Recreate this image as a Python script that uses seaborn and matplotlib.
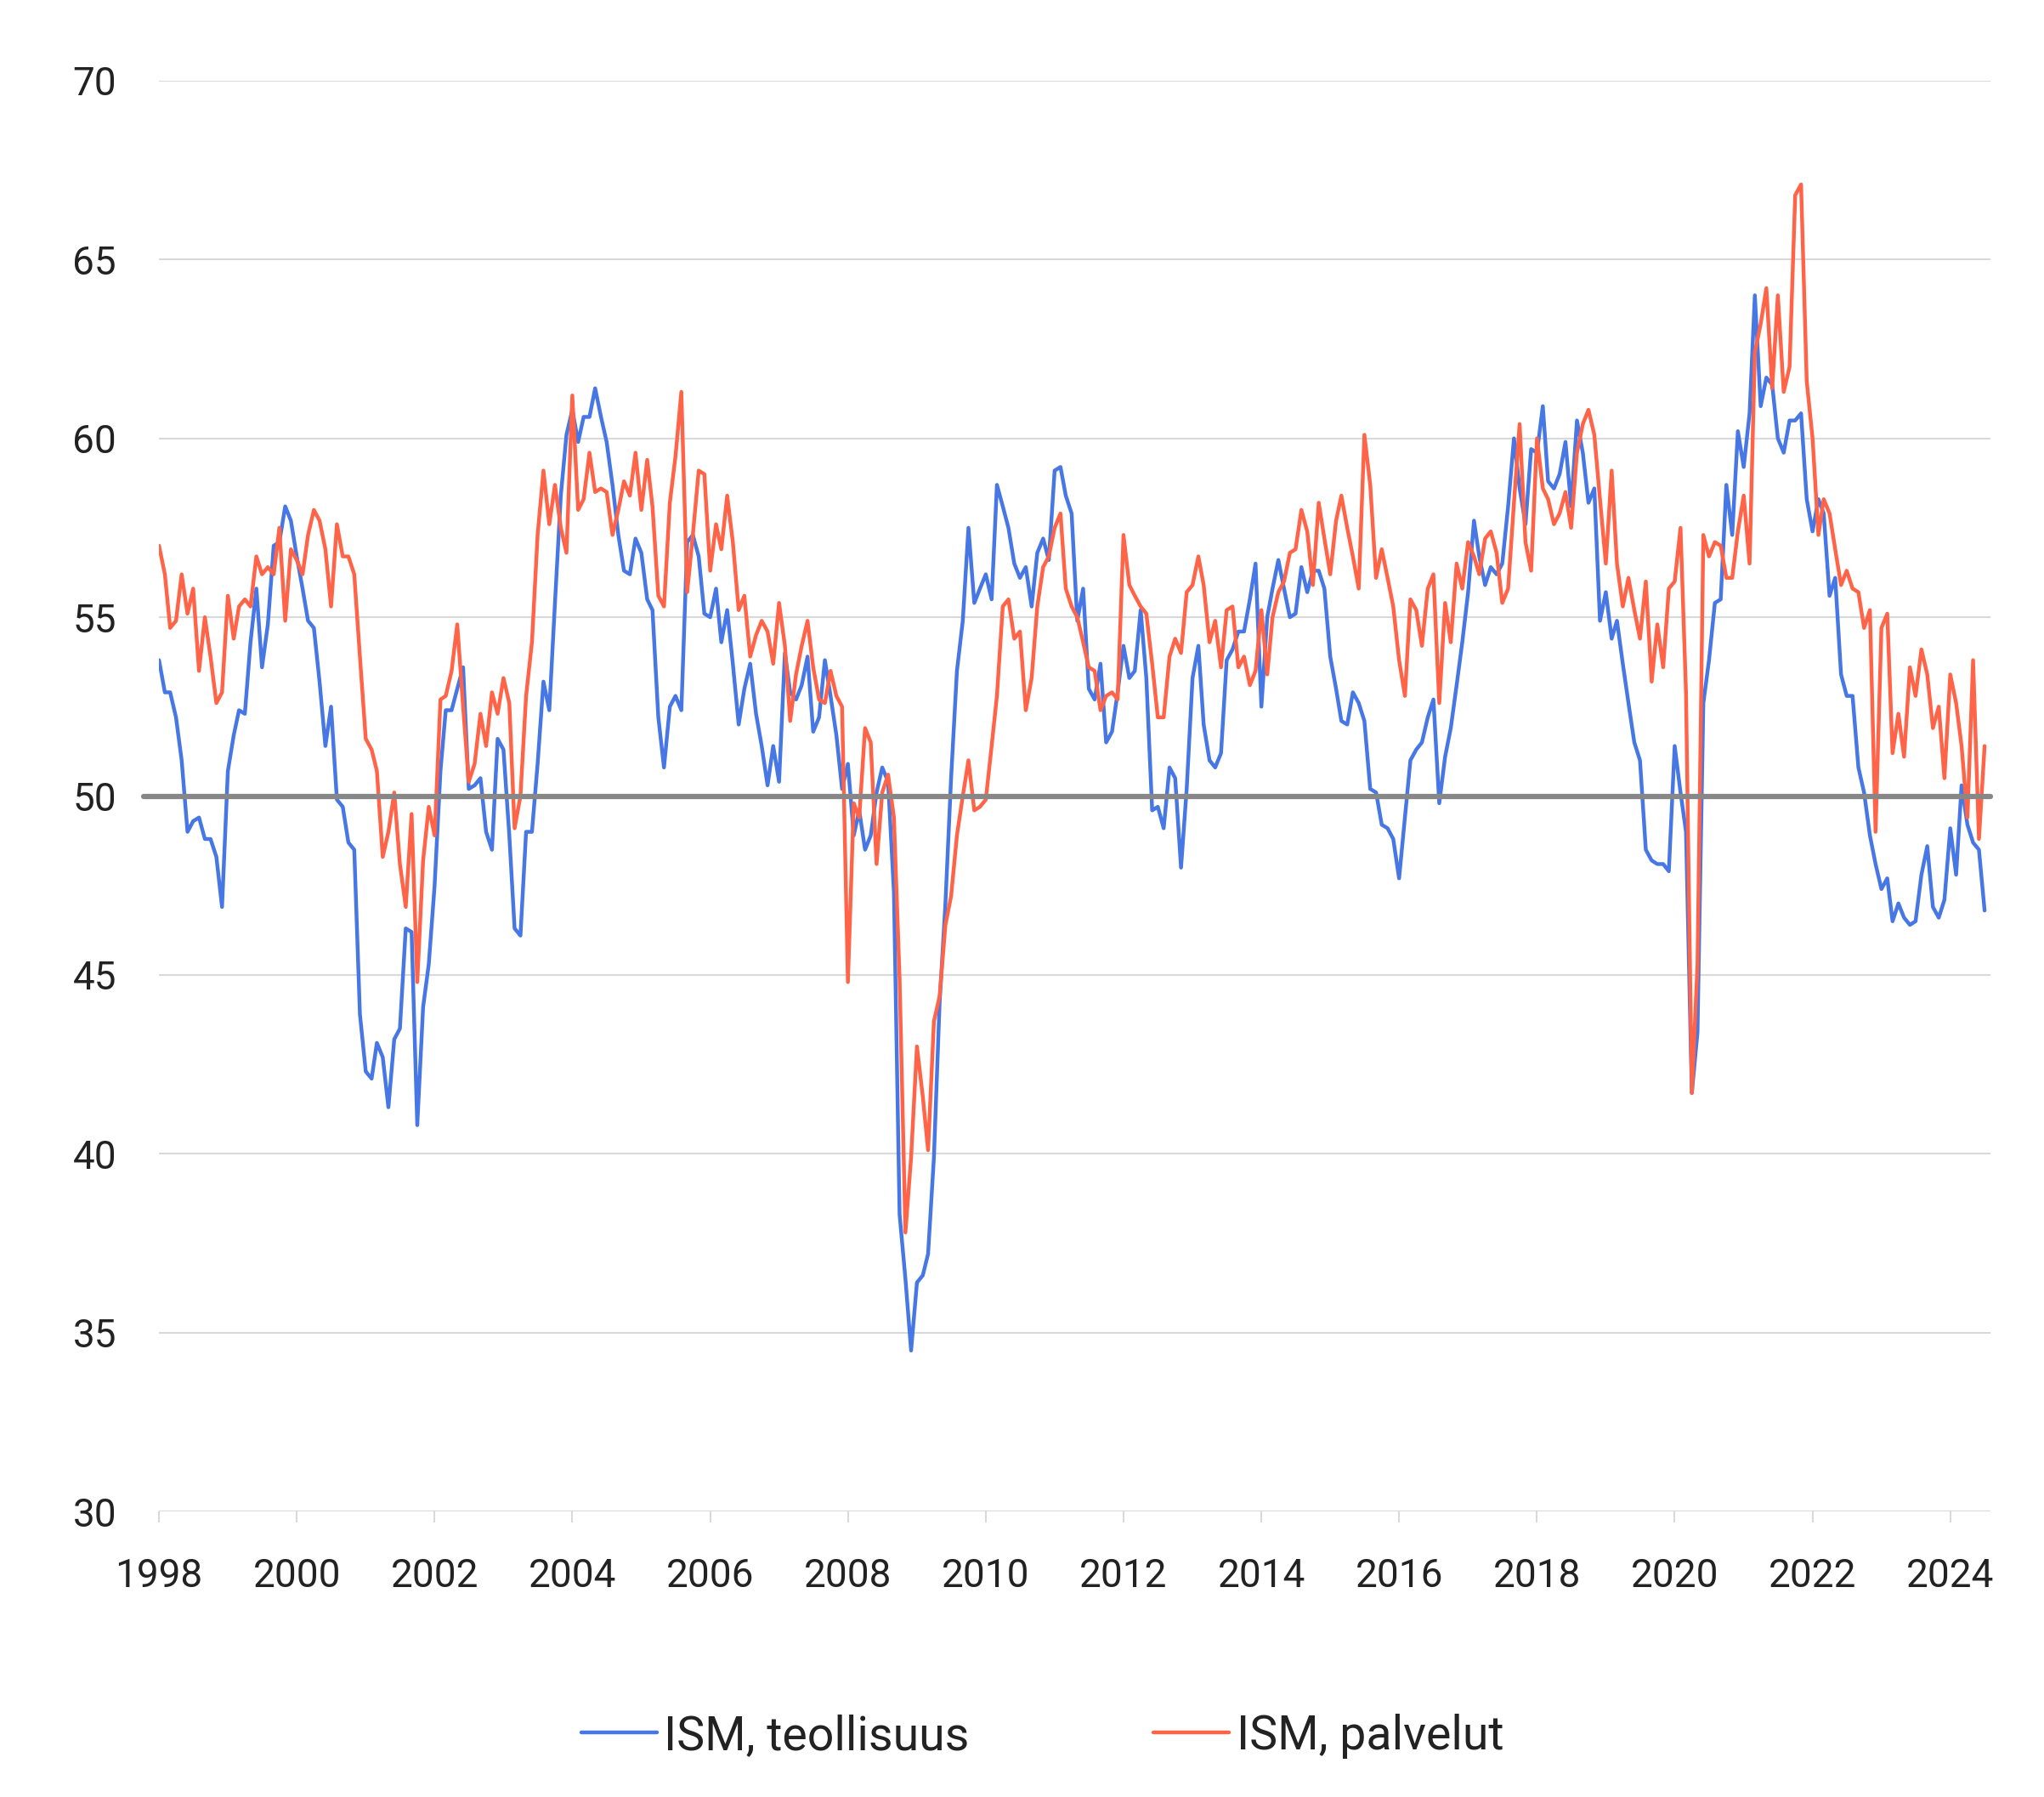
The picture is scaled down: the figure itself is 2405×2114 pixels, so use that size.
import pandas as pd
import matplotlib.pyplot as plt
import seaborn as sns

# ISM-indeksit kuukausittain, tammikuu 1998 - heinakuu 2024
teollisuus = [
    53.8, 52.9, 52.9, 52.2, 51.0, 49.0, 49.3, 49.4, 48.8, 48.8, 48.3, 46.9,  # 1998
    50.7, 51.7, 52.4, 52.3, 54.3, 55.8, 53.6, 54.8, 57.0, 57.1, 58.1, 57.7,  # 1999
    56.7, 55.8, 54.9, 54.7, 53.2, 51.4, 52.5, 49.9, 49.7, 48.7, 48.5, 43.9,  # 2000
    42.3, 42.1, 43.1, 42.7, 41.3, 43.2, 43.5, 46.3, 46.2, 40.8, 44.1, 45.3,  # 2001
    47.5, 50.7, 52.4, 52.4, 53.0, 53.6, 50.2, 50.3, 50.5, 49.0, 48.5, 51.6,  # 2002
    51.3, 48.9, 46.3, 46.1, 49.0, 49.0, 50.9, 53.2, 52.4, 55.4, 58.4, 60.1,  # 2003
    60.8, 59.9, 60.6, 60.6, 61.4, 60.6, 59.9, 58.7, 57.3, 56.3, 56.2, 57.2,  # 2004
    56.8, 55.5, 55.2, 52.2, 50.8, 52.5, 52.8, 52.4, 57.1, 57.3, 56.7, 55.1,  # 2005
    55.0, 55.8, 54.3, 55.2, 53.7, 52.0, 53.0, 53.7, 52.3, 51.4, 50.3, 51.4,  # 2006
    50.4, 54.0, 52.9, 52.7, 53.1, 53.9, 51.8, 52.2, 53.8, 52.8, 51.7, 50.2,  # 2007
    50.9, 48.9, 49.6, 48.5, 48.9, 50.1, 50.8, 50.4, 47.3, 38.3, 36.5, 34.5,  # 2008
    36.4, 36.6, 37.2, 39.9, 44.2, 47.0, 50.5, 53.5, 54.9, 57.5, 55.4, 55.8,  # 2009
    56.2, 55.5, 58.7, 58.1, 57.5, 56.5, 56.1, 56.4, 55.3, 56.8, 57.2, 56.6,  # 2010
    59.1, 59.2, 58.4, 57.9, 54.9, 55.8, 53.0, 52.7, 53.7, 51.5, 51.8, 52.9,  # 2011
    54.2, 53.3, 53.5, 55.2, 53.3, 49.6, 49.7, 49.1, 50.8, 50.5, 48.0, 50.2,  # 2012
    53.3, 54.2, 52.0, 51.0, 50.8, 51.2, 53.8, 54.1, 54.6, 54.6, 55.5, 56.5,  # 2013
    52.5, 55.0, 55.8, 56.6, 55.8, 55.0, 55.1, 56.4, 55.7, 56.3, 56.3, 55.8,  # 2014
    53.9, 53.0, 52.1, 52.0, 52.9, 52.6, 52.1, 50.2, 50.1, 49.2, 49.1, 48.8,  # 2015
    47.7, 49.4, 51.0, 51.3, 51.5, 52.2, 52.7, 49.8, 51.1, 51.9, 53.1, 54.3,  # 2016
    55.7, 57.7, 56.7, 55.9, 56.4, 56.2, 56.5, 58.1, 60.0, 58.6, 57.6, 59.7,  # 2017
    59.6, 60.9, 58.8, 58.6, 59.0, 59.9, 58.1, 60.5, 59.6, 58.2, 58.6, 54.9,  # 2018
    55.7, 54.4, 54.9, 53.7, 52.6, 51.5, 51.0, 48.5, 48.2, 48.1, 48.1, 47.9,  # 2019
    51.4, 50.1, 49.0, 41.7, 43.4, 52.6, 53.8, 55.4, 55.5, 58.7, 57.3, 60.2,  # 2020
    59.2, 60.7, 64.0, 60.9, 61.7, 61.5, 60.0, 59.6, 60.5, 60.5, 60.7, 58.3,  # 2021
    57.4, 58.3, 57.9, 55.6, 56.1, 53.4, 52.8, 52.8, 50.8, 50.1, 48.9, 48.1,  # 2022
    47.4, 47.7, 46.5, 47.0, 46.6, 46.4, 46.5, 47.8, 48.6, 46.9, 46.6, 47.1,  # 2023
    49.1, 47.8, 50.3, 49.2, 48.7, 48.5, 46.8,                                # 2024
]

palvelut = [
    57.0, 56.2, 54.7, 54.9, 56.2, 55.1, 55.8, 53.5, 55.0, 53.9, 52.6, 52.9,  # 1998
    55.6, 54.4, 55.3, 55.5, 55.3, 56.7, 56.2, 56.4, 56.2, 57.5, 54.9, 56.9,  # 1999
    56.6, 56.2, 57.3, 58.0, 57.7, 56.9, 55.3, 57.6, 56.7, 56.7, 56.2, 53.9,  # 2000
    51.6, 51.3, 50.7, 48.3, 49.0, 50.1, 48.1, 46.9, 49.5, 44.8, 48.2, 49.7,  # 2001
    48.9, 52.7, 52.8, 53.5, 54.8, 52.5, 50.4, 50.9, 52.3, 51.4, 52.9, 52.3,  # 2002
    53.3, 52.6, 49.1, 50.0, 52.8, 54.3, 57.3, 59.1, 57.6, 58.7, 57.5, 56.8,  # 2003
    61.2, 58.0, 58.3, 59.6, 58.5, 58.6, 58.5, 57.3, 58.0, 58.8, 58.4, 59.6,  # 2004
    58.0, 59.4, 58.1, 55.6, 55.3, 58.2, 59.5, 61.3, 55.7, 57.3, 59.1, 59.0,  # 2005
    56.3, 57.6, 56.9, 58.4, 57.1, 55.2, 55.6, 53.9, 54.5, 54.9, 54.6, 53.7,  # 2006
    55.4, 54.2, 52.1, 53.4, 54.2, 54.9, 53.6, 52.7, 52.6, 53.5, 52.8, 52.5,  # 2007
    44.8, 49.8, 49.4, 51.9, 51.5, 48.1, 50.1, 50.6, 49.4, 44.9, 37.8, 39.9,  # 2008
    43.0, 41.6, 40.1, 43.7, 44.4, 46.4, 47.2, 48.9, 50.0, 51.0, 49.6, 49.7,  # 2009
    49.9, 51.4, 52.8, 55.3, 55.5, 54.4, 54.6, 52.4, 53.3, 55.3, 56.4, 56.7,  # 2010
    57.5, 57.9, 55.8, 55.3, 55.0, 54.3, 53.6, 53.5, 52.4, 52.8, 52.9, 52.7,  # 2011
    57.3, 55.9, 55.6, 55.3, 55.1, 53.7, 52.2, 52.2, 53.9, 54.4, 54.0, 55.7,  # 2012
    55.9, 56.7, 55.9, 54.3, 54.9, 53.6, 55.2, 55.3, 53.6, 53.9, 53.1, 53.5,  # 2013
    55.2, 53.4, 55.0, 55.7, 56.0, 56.8, 56.9, 58.0, 57.4, 55.9, 58.2, 57.2,  # 2014
    56.2, 57.7, 58.4, 57.5, 56.7, 55.8, 60.1, 58.7, 56.1, 56.9, 56.1, 55.3,  # 2015
    53.8, 52.8, 55.5, 55.2, 54.2, 55.8, 56.2, 52.6, 55.4, 54.3, 56.5, 55.8,  # 2016
    57.1, 56.7, 56.2, 57.2, 57.4, 56.8, 55.4, 55.8, 58.2, 60.4, 57.1, 56.3,  # 2017
    60.0, 58.6, 58.3, 57.6, 57.9, 58.5, 57.5, 59.6, 60.4, 60.8, 60.1, 58.3,  # 2018
    56.5, 59.1, 56.5, 55.3, 56.1, 55.2, 54.4, 56.0, 53.2, 54.8, 53.6, 55.8,  # 2019
    56.0, 57.5, 52.9, 41.7, 45.3, 57.3, 56.7, 57.1, 57.0, 56.1, 56.1, 57.4,  # 2020
    58.4, 56.5, 62.4, 63.2, 64.2, 61.4, 64.0, 61.3, 62.0, 66.8, 67.1, 61.6,  # 2021
    60.0, 57.3, 58.3, 57.9, 56.9, 55.9, 56.3, 55.8, 55.7, 54.7, 55.2, 49.0,  # 2022
    54.7, 55.1, 51.2, 52.3, 51.1, 53.6, 52.8, 54.1, 53.4, 51.9, 52.5, 50.5,  # 2023
    53.4, 52.6, 51.4, 49.4, 53.8, 48.8, 51.4,                                # 2024
]

sarjat = ["ISM, teollisuus", "ISM, palvelut"]
varit = ["#4677E5", "#FF6448"]
vuodet = list(range(1998, 2025, 2))
y_tikit = [30, 35, 40, 45, 50, 55, 60, 65, 70]

kuukaudet = pd.date_range("1998-01-01", periods=len(teollisuus), freq="MS")
df = pd.DataFrame({
    "aika": list(kuukaudet) * 2,
    "arvo": teollisuus + palvelut,
    "sarja": [sarjat[0]] * len(teollisuus) + [sarjat[1]] * len(palvelut),
})

sns.set_theme(style="white")
plt.rcParams["font.family"] = ["Roboto", "DejaVu Sans"]

fig = plt.figure(figsize=(24.05, 21.14), dpi=100)
ax = fig.add_axes([0.0778, 0.1589, 0.8960, 0.7962])

sns.lineplot(data=df, x="aika", y="arvo", hue="sarja", hue_order=sarjat,
             palette=varit, linewidth=3.2, estimator=None, ax=ax, zorder=2)

# 50-raja
ax.axhline(50, xmin=-0.0085, xmax=1.0, color="#878787", linewidth=4.5,
           zorder=3, clip_on=False)

ax.set_ylim(30, 70)
ax.set_xlim(pd.Timestamp("1998-01-01"), pd.Timestamp("2024-08-01"))
ax.set_yticks(y_tikit)
ax.set_xticks([pd.Timestamp(f"{v}-01-01") for v in vuodet])
ax.set_xticklabels([str(v) for v in vuodet])

ax.grid(axis="y", color="#d9d9d9", linewidth=1.5, zorder=0)
ax.grid(axis="x", visible=False)
for s in ax.spines.values():
    s.set_visible(False)

ax.tick_params(axis="y", length=0, pad=36, labelsize=33, labelcolor="#222222")
ax.tick_params(axis="x", length=9, width=1.5, color="#d9d9d9", pad=30,
               labelsize=33, labelcolor="#222222", bottom=True)
ax.set_xlabel("")
ax.set_ylabel("")

handles, labels = ax.get_legend_handles_labels()
ax.legend_.remove()
fig.legend(handles, labels, loc="center", bbox_to_anchor=(0.51, 0.034),
           ncol=2, frameon=False, fontsize=40, handlelength=1.6,
           handletextpad=0.15, columnspacing=3.9, labelcolor="#222222")

fig.savefig("out.png", dpi=100)
